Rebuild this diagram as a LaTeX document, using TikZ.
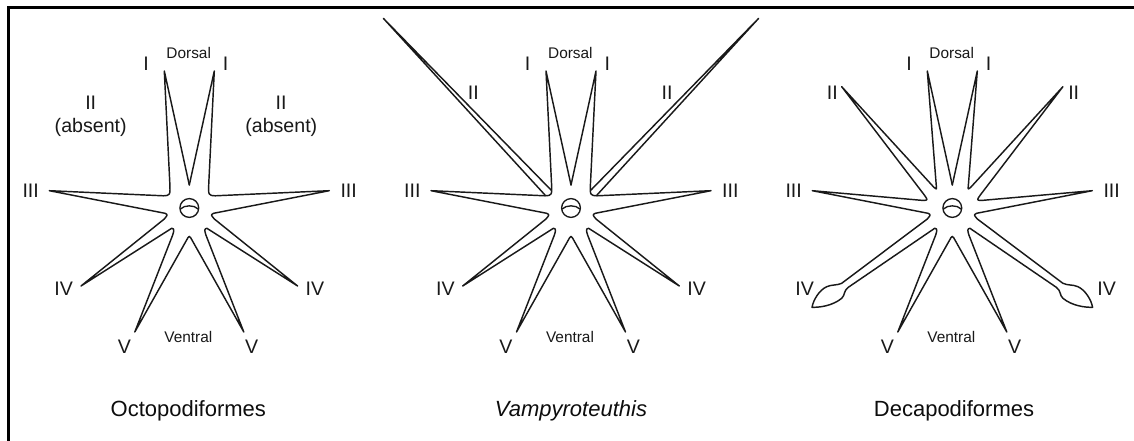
\documentclass[tikz,border=0pt]{standalone}
\usepackage{fontspec}
\setmainfont{Liberation Sans}
\newcommand{\armlowerleft}{% arm III and the notch below it, left half
  -- (-140,17.3) -- (-24.3,-5.3) .. controls (-21.5,-6.8) .. (-25,-11)
}
\newcommand{\armventral}{% from the notch beside arm V to the ventral notch
  -- (-16.6,-27) -- (-54.5,-124) -- (-1.3,-29.6) .. controls (-0.6,-28.5) .. (0,-28.5)
}
\tikzset{
  body/.style={line width=1.45pt, line join=round, line cap=round, draw=black!90},
  ring/.style={line width=1.35pt, draw=black!90},
  frameline/.style={line width=2.9pt, draw=black},
  lab/.style={inner sep=0, font=\fontsize{19.6}{22}\selectfont, text=black!90},
  side/.style={inner sep=0, font=\fontsize{15.4}{18}\selectfont, text=black!90},
  title/.style={inner sep=0, font=\fontsize{22}{26}\selectfont, text=black!95},
  eye/.pic={
    \draw[ring] (0,0) circle (9.4);
    \draw[ring] (-8.8,-1) .. controls (-5,3.2) and (5,3.2) .. (8.8,-1);
  },
  halfocto/.pic={
    \draw[body] (0,23) -- (-25,137) -- (-19.5,25) .. controls (-19,12.6) .. (-26,12.2)
      \armlowerleft -- (-108.3,-78) -- (-17.6,-20.3)
      .. controls (-14.6,-20.6) and (-15.4,-23) .. (-16.6,-27)
      \armventral;
  },
  halfdeca/.pic={
    \draw[body] (0,23) -- (-25,137) -- (-16,22) .. controls (-15.6,18.4) .. (-18.5,20.8)
      -- (-110.6,121.3) -- (-28,13) .. controls (-24.4,7.9) .. (-28.7,7.5)
      \armlowerleft -- (-110.6,-75.3)
      .. controls (-115,-77.5) and (-121,-76.5) .. (-125.6,-78.7)
      .. controls (-133,-82) and (-139,-92) .. (-140.3,-99.3)
      .. controls (-133,-99.5) and (-120,-98) .. (-110.6,-90.3)
      .. controls (-107,-87) and (-109,-83) .. (-104,-79.3)
      -- (-17.6,-20.3) .. controls (-14.6,-20.6) and (-15.4,-23) .. (-16.6,-27)
      \armventral;
  },
  longarm/.pic={
    \draw[body] (-26,13) -- (-187.7,189.7) -- (-20,18);
  }
}
% Side and arm labels common to all three crowns
\newcommand{\crownlabels}[1]{%
  \node[side] (#1dorsal) at (-0.6,154.5) {Dorsal};
  \node[side] (#1ventral) at (-1,-128.7) {Ventral};
  \node[lab] (#1il) at (-43.3,144) {I};
  \node[lab] (#1ir) at (36.4,144) {I};
  \node[lab] (#1iiil) at (-158.6,17) {III};
  \node[lab] (#1iiir) at (159.4,17) {III};
  \node[lab] (#1vl) at (-65,-138.7) {V};
  \node[lab] (#1vr) at (62.4,-138.7) {V};
}
\begin{document}
\begin{tikzpicture}[x=1pt,y=1pt]
\useasboundingbox (0,0) rectangle (1134,441);
\fill[white] (0,0) rectangle (1134,441);
% Frame: top and left edges only
\coordinate (framebottom) at (8.8,0);
\coordinate (framecorner) at (8.8,433.4);
\coordinate (frameright) at (1134,433.4);
\draw[frameline] (framebottom) -- (framecorner) -- (frameright);

% Octopodiformes
\begin{scope}[shift={(189.3,233)}]
  \pic {halfocto};
  \pic[xscale=-1] {halfocto};
  \pic {eye};
  \crownlabels{o}
  \node[lab] (oiil) at (-98.6,105) {II};
  \node[lab] (oabsl) at (-98.6,81) {(absent)};
  \node[lab] (oiir) at (91.7,105) {II};
  \node[lab] (oabsr) at (92,81) {(absent)};
  \node[lab] (oivl) at (-125.6,-81) {IV};
  \node[lab] (oivr) at (125.7,-81) {IV};
  \node[title] (otitle) at (-1,-202.7) {Octopodiformes};
\end{scope}

% Vampyroteuthis
\begin{scope}[shift={(571,233)}]
  \pic {halfocto};
  \pic[xscale=-1] {halfocto};
  \pic {longarm};
  \pic[xscale=-1] {longarm};
  \pic {eye};
  \crownlabels{v}
  \node[lab] (viil) at (-97.7,115.7) {II};
  \node[lab] (viir) at (96,115.7) {II};
  \node[lab] (vivl) at (-125.6,-81) {IV};
  \node[lab] (vivr) at (125.7,-81) {IV};
  \node[title] (vtitle) at (0,-202.7) {\itshape Vampyroteuthis};
\end{scope}

% Decapodiformes
\begin{scope}[shift={(952.3,233)}]
  \pic {halfdeca};
  \pic[xscale=-1] {halfdeca};
  \pic {eye};
  \crownlabels{d}
  \node[lab] (diil) at (-120,115.7) {II};
  \node[lab] (diir) at (121.4,115.7) {II};
  \node[lab] (divl) at (-147.6,-81) {IV};
  \node[lab] (divr) at (154.4,-81) {IV};
  \node[title] (dtitle) at (1.7,-202.7) {Decapodiformes};
\end{scope}
\end{tikzpicture}
\end{document}
